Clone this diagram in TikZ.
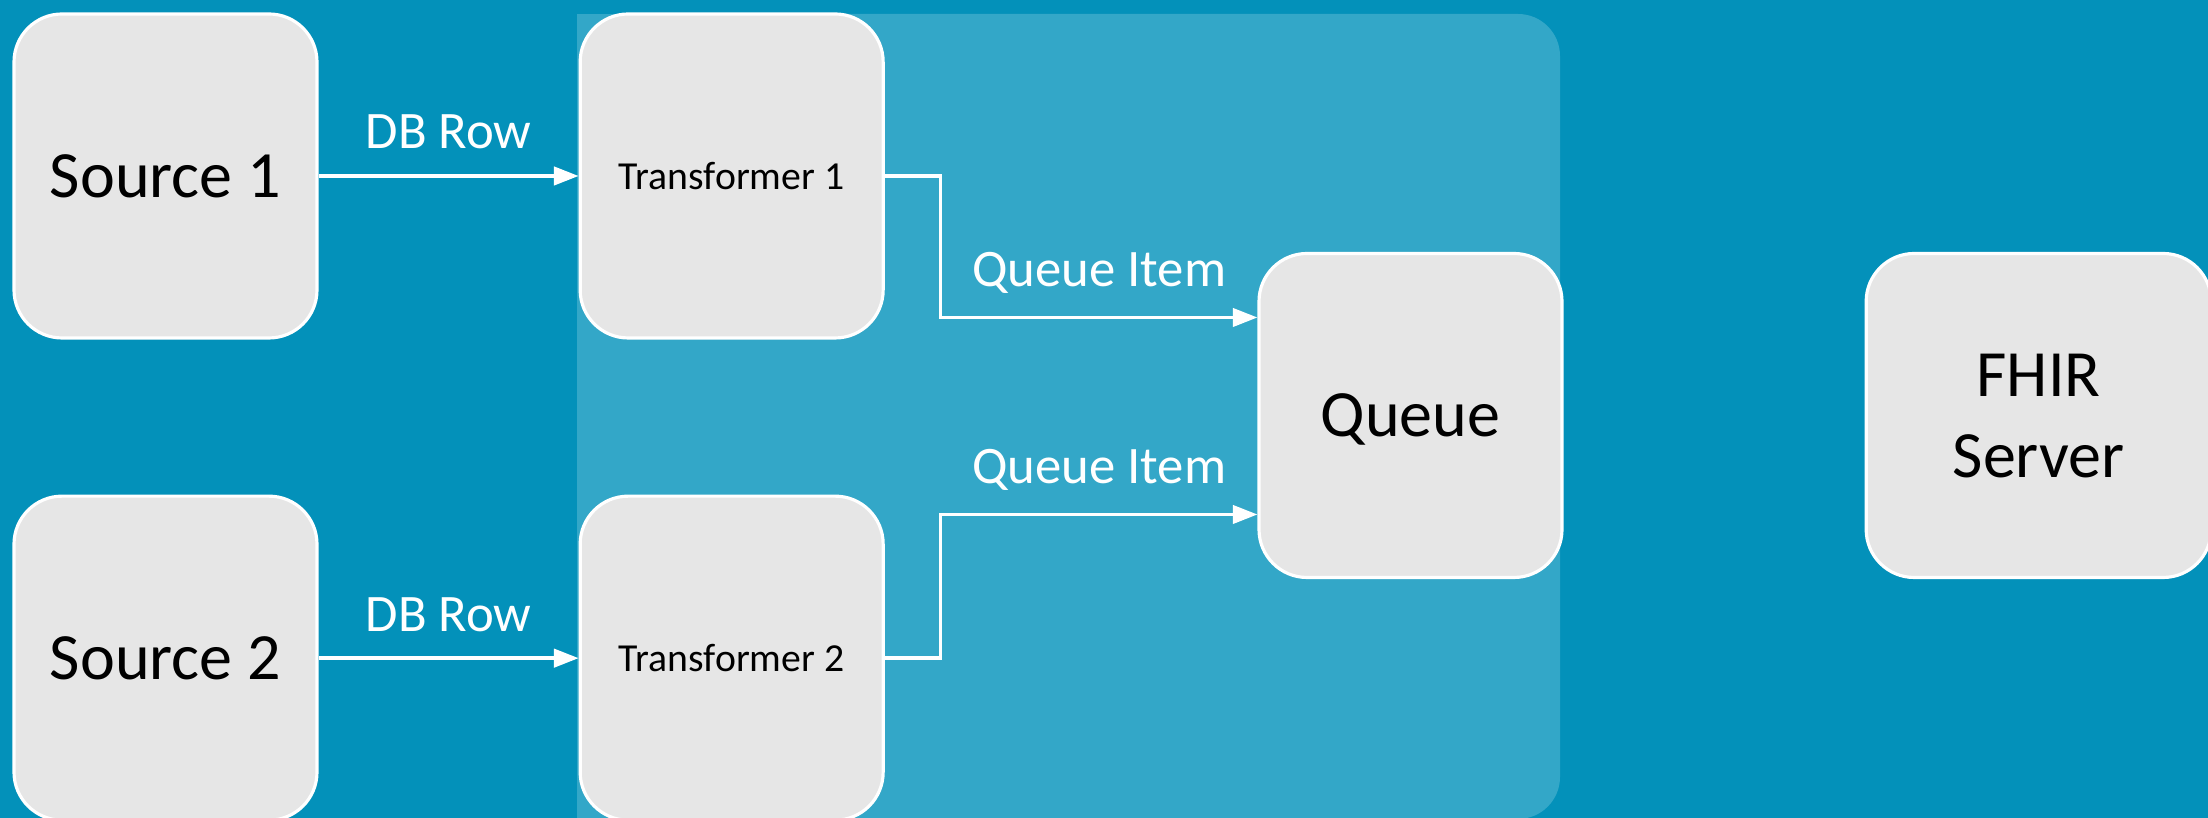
\documentclass[tikz,border=0pt]{standalone}
\usepackage{fontspec}
\setmainfont{Carlito}
\usetikzlibrary{positioning,arrows.meta}

\definecolor{bgblue}{RGB}{3,145,186}
\definecolor{panelblue}{RGB}{51,167,200}
\definecolor{boxgray}{RGB}{230,230,230}

\tikzset{
  box/.style={draw=white, line width=0.9pt, fill=boxgray, rounded corners=0.48cm,
              minimum width=3.03cm, minimum height=3.24cm, align=center, text depth=0pt,
              font=\fontsize{18.8}{23}\selectfont},
  small/.style={font=\fontsize{11.3}{13.5}\selectfont},
  flow/.style={draw=white, line width=0.95pt, -{Triangle[length=7pt,width=5.2pt]}},
  lbl/.style={text=white, inner sep=0pt, anchor=base, font=\fontsize{15}{18}\selectfont}
}

\begin{document}
\begin{tikzpicture}
    \useasboundingbox (0,0) rectangle (22.08,8.18);
    \fill[bgblue] (0,0) rectangle (22.08,8.18);
    \fill[panelblue, rounded corners=0.42cm] (5.77,-0.01) rectangle (15.60,8.04);
    \fill[panelblue] (5.77,-0.01) rectangle (10,8.04);

    \node[box] (src1) at (1.655,6.42) {Source 1};
    \node[box, small, right=2.6cm of src1] (tr1) {Transformer 1};
    \node[box, below=1.55cm of src1] (src2) {Source 2};
    \node[box, small, right=2.6cm of src2] (tr2) {Transformer 2};
    \node[box] (queue) at (14.105,4.025) {Queue};
    \node[box, minimum width=3.45cm, right=3.01cm of queue] (fhir) {FHIR\\Server};

    \draw[flow] (src1) -- node[lbl, yshift=0.27cm] (row1) {DB Row} (tr1);
    \draw[flow] (src2) -- node[lbl, yshift=0.27cm] (row2) {DB Row} (tr2);
    \draw[flow] (tr1.east) -- ++(0.56,0) |- node[lbl, pos=0.75, yshift=0.31cm] (item1) {Queue Item} ([yshift=0.98cm]queue.west);
    \draw[flow] (tr2.east) -- ++(0.56,0) |- node[lbl, pos=0.75, yshift=0.31cm] (item2) {Queue Item} ([yshift=-0.99cm]queue.west);
\end{tikzpicture}
\end{document}
